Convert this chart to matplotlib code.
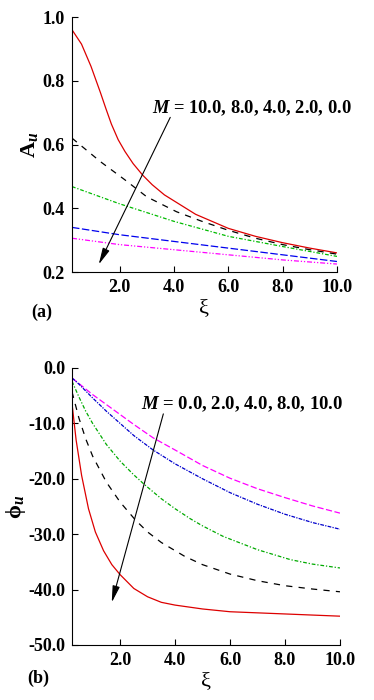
import matplotlib
matplotlib.use('Agg')
import matplotlib.pyplot as plt
import numpy as np

plt.rcParams['font.family'] = 'Liberation Serif'
plt.rcParams['font.weight'] = 'bold'
plt.rcParams['mathtext.fontset'] = 'custom'
plt.rcParams['mathtext.rm'] = 'Liberation Serif:bold'
plt.rcParams['mathtext.it'] = 'Liberation Serif:bold:italic'

# (a) amplitude A_u, M = 10, 8, 4, 2, 0
xi_r = [0.25, 0.6, 0.95, 1.3, 1.5, 1.7, 1.95, 2.2, 2.5, 2.85, 3.2, 3.65, 4.8, 6.0, 7.0, 8.0, 9.0, 10.0]
A_m10 = [0.96, 0.915, 0.845, 0.762, 0.712, 0.664, 0.615, 0.578, 0.540, 0.504, 0.474, 0.442,
         0.381, 0.337, 0.312, 0.292, 0.275, 0.26]
xi_k = [0.25, 1.3, 2.2, 3.0, 4.1, 5.0, 6.0, 7.0, 8.0, 9.0, 10.0]
A_m8 = [0.62, 0.546, 0.489, 0.436, 0.389, 0.36, 0.331, 0.306, 0.286, 0.27, 0.256]
xi_c = [0.25, 2.0, 4.0, 6.0, 8.0, 10.0]
A_m4 = [0.468, 0.414, 0.359, 0.312, 0.28, 0.249]
A_m2 = [0.340, 0.317, 0.296, 0.275, 0.254, 0.233]
A_m0 = [0.306, 0.286, 0.270, 0.254, 0.238, 0.225]

# (b) phase phi_u, M = 0, 2, 4, 8, 10
xi_p = [0.25, 0.5, 1.0, 1.5, 2.0, 2.5, 3.2, 4.0, 5.0, 6.0, 7.0, 8.0, 9.0, 10.0]
P_m0 = [-1.8, -2.8, -4.8, -6.6, -8.4, -10.2, -12.6, -14.8, -17.6, -19.9, -21.8, -23.4, -24.9, -26.2]
P_m2 = [-1.8, -2.9, -5.4, -7.8, -10.0, -12.2, -14.8, -17.3, -20.0, -22.5, -24.6, -26.4, -27.9, -29.1]
xi_g = [0.25, 0.5, 0.75, 1.0, 1.5, 2.0, 2.5, 2.9, 3.5, 4.0, 4.55, 5.0, 5.75, 7.0, 8.2, 9.0, 10.0]
P_m4 = [-2.4, -5.2, -7.8, -10.0, -13.8, -16.8, -19.3, -21.1, -23.6, -25.4, -27.2, -28.5, -30.4, -32.8, -34.6, -35.4, -36.1]
xi_k2 = [0.25, 0.5, 0.75, 1.0, 1.5, 2.0, 2.55, 3.0, 3.5, 4.35, 5.0, 6.0, 7.0, 8.0, 9.0, 10.0]
P_m8 = [-4.3, -9.0, -12.8, -15.9, -20.6, -24.2, -27.4, -29.6, -31.5, -34.0, -35.5, -37.2, -38.4, -39.3, -39.9, -40.4]
xi_r2 = [0.25, 0.4, 0.6, 0.85, 1.1, 1.4, 1.7, 2.0, 2.5, 3.0, 3.5, 4.0, 5.0, 6.0, 7.0, 8.0, 9.0, 10.0]
P_m10 = [-6.4, -13.0, -19.4, -25.4, -29.6, -33.0, -35.5, -37.3, -39.8, -41.3, -42.3, -42.8, -43.5, -44.0, -44.2, -44.4, -44.6, -44.8]

fig = plt.figure(figsize=(3.74, 7.0), dpi=100)
ax1 = fig.add_axes([0.1925, 0.6114, 0.7085, 0.3643])
ax2 = fig.add_axes([0.1925, 0.0786, 0.7165, 0.3957])

lw = 0.9
ax1.plot(xi_r, A_m10, color='#dd0000', lw=lw)
ax1.plot(xi_k, A_m8, color='black', lw=lw, ls=(0, (5, 5)))
ax1.plot(xi_c, A_m4, color='#00bb00', lw=lw, ls=(0, (3, 1.5, 1, 1.5)))
ax1.plot(xi_c, A_m2, color='#0000ee', lw=lw, ls=(0, (6, 2)))
ax1.plot(xi_c, A_m0, color='#ff00ff', lw=lw, ls=(0, (4, 1.5, 1, 1.5, 1, 1.5)))

ax2.plot(xi_p, P_m0, color='#ff00ff', lw=lw, ls=(0, (5, 2)))
ax2.plot(xi_p, P_m2, color='#0000cc', lw=lw, ls=(0, (3, 1, 1, 1)))
ax2.plot(xi_g, P_m4, color='#00aa00', lw=lw, ls=(0, (3, 1.5, 1, 1.5)))
ax2.plot(xi_k2, P_m8, color='black', lw=lw, ls=(0, (5, 5)))
ax2.plot(xi_r2, P_m10, color='#dd0000', lw=lw)

for ax in (ax1, ax2):
    ax.spines['top'].set_visible(False)
    ax.spines['right'].set_visible(False)
    ax.set_xlim(0.25, 10.0)
    ax.set_xticks([2.0, 4.0, 6.0, 8.0, 10.0])
    ax.set_xticklabels(['2.0', '4.0', '6.0', '8.0', '10.0'])
    ax.tick_params(direction='in', length=4, width=0.8, labelsize=13, pad=5)
    ax.set_xlabel('ξ', fontsize=16, labelpad=2)

ax1.set_ylim(0.2, 1.0)
ax1.set_yticks([0.2, 0.4, 0.6, 0.8, 1.0])
ax1.set_yticklabels(['0.2', '0.4', '0.6', '0.8', '1.0'])
ax1.set_ylabel(r'$\mathrm{A}_{\mathit{u}}$', fontsize=16, labelpad=2)

ax2.set_ylim(-50, 0)
ax2.set_yticks([-50, -40, -30, -20, -10, 0])
ax2.set_yticklabels(['-50.0', '-40.0', '-30.0', '-20.0', '-10.0', '0.0'])
ax2.set_ylabel(r'$\mathrm{ϕ}_{\mathit{u}}$', fontsize=16, labelpad=0)

arrow = dict(arrowstyle='-|>,head_length=1.0,head_width=0.22', color='black', lw=0.8)
ax1.annotate('', xy=(1.19, 0.216), xytext=(3.91, 0.693), arrowprops=arrow)
ax1.text(1.057, 0.643, r'$\mathit{M}$ = 10.0, 8.0, 4.0, 2.0, 0.0', transform=ax1.transAxes,
         fontsize=13.3, ha='right', va='center')
ax2.annotate('', xy=(1.67, -42.8), xytext=(3.6, -7.8), arrowprops=arrow)
ax2.text(1.011, 0.87, r'$\mathit{M}$ = 0.0, 2.0, 4.0, 8.0, 10.0', transform=ax2.transAxes,
         fontsize=13.5, ha='right', va='center')

fig.text(42 / 374, 1 - 312 / 700, '(a)', fontsize=13, ha='center', va='center')
fig.text(38 / 374, 1 - 678 / 700, '(b)', fontsize=13, ha='center', va='center')

fig.savefig('out.png', dpi=100)
